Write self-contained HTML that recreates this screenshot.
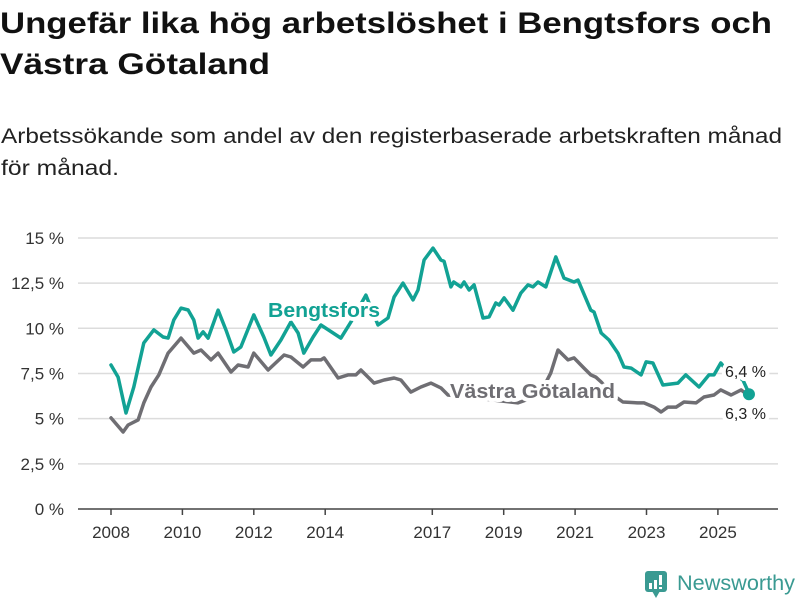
<!DOCTYPE html>
<html><head><meta charset="utf-8"><style>
html,body{margin:0;padding:0;background:#fff;}
svg{display:block;font-family:"Liberation Sans",sans-serif;}
</style></head><body>
<svg id="chart" width="800" height="600" viewBox="0 0 800 600">
<text x="0" y="33" font-size="30" font-weight="bold" fill="#111" textLength="772" lengthAdjust="spacingAndGlyphs">Ungefär lika hög arbetslöshet i Bengtsfors och</text>
<text x="0" y="74" font-size="30" font-weight="bold" fill="#111" textLength="270" lengthAdjust="spacingAndGlyphs">Västra Götaland</text>
<text x="1" y="143" font-size="21" fill="#222" textLength="781" lengthAdjust="spacingAndGlyphs">Arbetssökande som andel av den registerbaserade arbetskraften månad</text>
<text x="1" y="175" font-size="21" fill="#222" textLength="118" lengthAdjust="spacingAndGlyphs">för månad.</text>
<g id="grid"></g><g id="xaxis"></g><g id="lines"></g><g id="labels"></g>
<g>
<rect x="645" y="571" width="22" height="21" rx="3" fill="#3a9a92"/>
<polygon points="652,591 660,591 656,598" fill="#3a9a92"/>
<rect x="649" y="583" width="3" height="6" fill="#fff"/><rect x="654" y="580" width="3" height="9" fill="#fff"/><rect x="659" y="575" width="3" height="10" fill="#fff"/><rect x="659" y="587" width="3" height="2" fill="#fff"/>
<text x="677" y="590" font-size="21" fill="#3a9a92" textLength="118" lengthAdjust="spacingAndGlyphs">Newsworthy</text>
</g>
</svg>
<script>
const yTicks=[0,2.5,5,7.5,10,12.5,15];
const yTickLabels=["0 %","2,5 %","5 %","7,5 %","10 %","12,5 %","15 %"];
const xTicks=[2008,2010,2012,2014,2017,2019,2021,2023,2025];
const bengYears=[2008.0,2008.2,2008.42,2008.64,2008.92,2009.2,2009.46,2009.6,2009.76,2009.96,2010.16,2010.32,2010.44,2010.58,2010.72,2011.0,2011.22,2011.44,2011.64,2012.0,2012.28,2012.48,2012.76,2013.04,2013.24,2013.4,2013.66,2013.88,2014.44,2014.72,2015.14,2015.48,2015.76,2015.93,2016.18,2016.46,2016.6,2016.77,2017.02,2017.24,2017.33,2017.52,2017.6,2017.8,2017.89,2018.03,2018.17,2018.42,2018.59,2018.78,2018.87,2019.01,2019.26,2019.48,2019.68,2019.82,2019.96,2020.18,2020.46,2020.69,2020.97,2021.08,2021.44,2021.53,2021.73,2021.95,2022.2,2022.37,2022.57,2022.85,2022.99,2023.18,2023.46,2023.88,2024.1,2024.47,2024.75,2024.89,2025.08,2025.17,2025.7,2025.87];
const bengValues=[7.97,7.3,5.31,6.75,9.19,9.91,9.52,9.46,10.46,11.12,11.01,10.46,9.46,9.8,9.46,11.0,9.9,8.69,8.97,10.74,9.52,8.52,9.35,10.35,9.74,8.63,9.52,10.18,9.46,10.35,11.84,10.18,10.57,11.73,12.5,11.57,12.12,13.78,14.44,13.78,13.7,12.29,12.56,12.29,12.56,12.12,12.4,10.57,10.63,11.4,11.29,11.68,11.0,11.95,12.4,12.29,12.56,12.29,13.95,12.78,12.56,12.67,11.0,10.9,9.74,9.35,8.63,7.86,7.8,7.42,8.14,8.08,6.86,6.97,7.42,6.75,7.42,7.42,8.08,7.86,7.14,6.4];
const vgYears=[2008.0,2008.34,2008.48,2008.76,2008.92,2009.12,2009.34,2009.6,2009.96,2010.32,2010.52,2010.8,2011.0,2011.36,2011.56,2011.84,2012.0,2012.4,2012.85,2013.04,2013.38,2013.6,2013.88,2013.97,2014.36,2014.64,2014.86,2015.0,2015.37,2015.65,2015.93,2016.12,2016.4,2016.68,2016.96,2017.24,2017.44,2018.4,2019.4,2020.0,2020.32,2020.52,2020.8,2020.97,2021.25,2021.44,2021.58,2021.73,2022.0,2022.34,2022.76,2022.93,2023.21,2023.41,2023.6,2023.83,2024.05,2024.39,2024.61,2024.89,2025.08,2025.37,2025.65,2025.84];
const vgValues=[5.04,4.26,4.65,4.93,5.87,6.75,7.42,8.63,9.46,8.63,8.8,8.25,8.63,7.58,7.97,7.86,8.63,7.69,8.52,8.41,7.86,8.25,8.25,8.36,7.25,7.42,7.42,7.69,6.97,7.14,7.25,7.14,6.47,6.75,6.97,6.7,6.31,6.1,5.87,6.3,7.53,8.8,8.25,8.36,7.8,7.42,7.3,7.03,6.4,5.92,5.87,5.87,5.64,5.37,5.64,5.64,5.92,5.87,6.2,6.31,6.59,6.31,6.59,6.3];

const NS="http://www.w3.org/2000/svg";
const X=t=>111+(t-2008)*35.7;
const Y=v=>509-v*18.07;
function mk(tag,attrs,parent){const e=document.createElementNS(NS,tag);for(const k in attrs)e.setAttribute(k,attrs[k]);parent.appendChild(e);return e;}
const grid=document.getElementById('grid');
yTicks.forEach((v,i)=>{
  if(v>0){const l=mk('line',{x1:78,x2:778,y1:Y(v),y2:Y(v),stroke:'#dcdcdc','stroke-width':1.5},grid);
  
  }
  const t=mk('text',{x:64,y:Y(v)+6,'text-anchor':'end','font-size':17,fill:'#333'},grid);
  t.textContent=yTickLabels[i];
  
  
});
const xa=document.getElementById('xaxis');
const ax=mk('line',{x1:78,x2:778,y1:509,y2:509,stroke:'#444','stroke-width':1.5},xa);


xTicks.forEach(yr=>{
  mk('line',{x1:X(yr),x2:X(yr),y1:509,y2:515,stroke:'#444','stroke-width':1.5},xa);
  const t=mk('text',{x:X(yr),y:538,'text-anchor':'middle','font-size':17,fill:'#333'},xa);
  t.textContent=yr;
  
  
});
const lines=document.getElementById('lines');
function path(ys,vs,col,name){
  const d=ys.map((t,i)=>(i?'L':'M')+X(t).toFixed(1)+','+Y(vs[i]).toFixed(1)).join('');
  const p=mk('path',{d:d,fill:'none',stroke:col,'stroke-width':3.5,'stroke-linejoin':'round','stroke-linecap':'round'},lines);
  
  
}
path(vgYears,vgValues,'#6f6e73','vastra-gotaland-line');
path(bengYears,bengValues,'#12a294','bengtsfors-line');
const dot=mk('circle',{cx:X(bengYears[bengYears.length-1]),cy:Y(6.35),r:6,fill:'#12a294'},lines);


const lb=document.getElementById('labels');
function label(x,y,txt,col,size,bold,len,name){
  const t=mk('text',{x:x,y:y,'font-size':size,fill:col,stroke:'#fff','stroke-width':8,'paint-order':'stroke','stroke-linejoin':'round'},lb);
  if(bold)t.setAttribute('font-weight','bold');
  if(len){t.setAttribute('textLength',len);t.setAttribute('lengthAdjust','spacingAndGlyphs');}
  t.textContent=txt;
  
  
}
label(268,317,'Bengtsfors','#12a294',20,true,112,'bengtsfors-label');
label(450,398,'Västra Götaland','#6f6e73',20,true,165,'vastra-gotaland-label');
label(725,377,'6,4 %','#222',16,false,0,'bengtsfors-end-value');
label(725,419,'6,3 %','#222',16,false,0,'vastra-gotaland-end-value');
</script>
</body></html>
